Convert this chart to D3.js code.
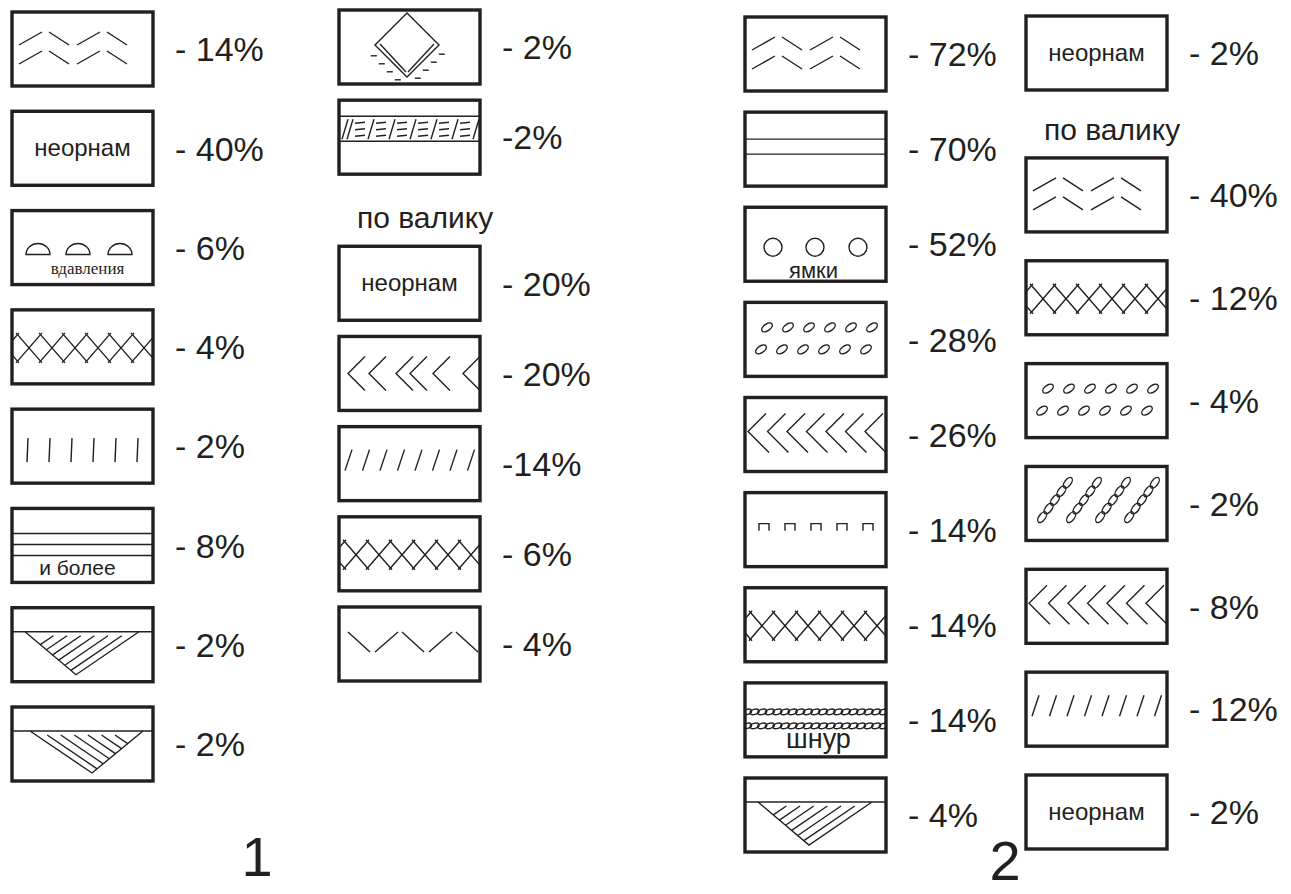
<!DOCTYPE html>
<html>

<head>
  <meta charset="UTF-8" />
  <title>Орнаментация</title>
  <script src="https://d3js.org/d3.v7.min.js"></script>
  <style>
    body { margin: 0; background: #fff; }
    text { font-family: "Liberation Sans", Arial, sans-serif; fill: #231f20; }
  </style>
</head>

<body>
  <div id="chart"></div>

  <script>
    // group 1, left column
    const col1Patterns = ["chevronPairs", "neornam", "domes", "crossChain", "ticks", "lines3", "triangleLeft", "triangleRight"];
    const col1Values = [14, 40, 6, 4, 2, 8, 2, 2];
    // group 1, right column ("header" is the "по валику" caption)
    const col2Patterns = ["diamond", "slashBand", "header", "neornam", "chevronsSparse", "slashes", "crossChain", "zigzag"];
    const col2Values = [2, 2, null, 20, 20, 14, 6, 4];
    // group 2, left column
    const col3Patterns = ["chevronPairs", "lines2", "pits", "ovals", "chevronsDense", "brackets", "crossChain", "cord", "triangleLeft"];
    const col3Values = [72, 70, 52, 28, 26, 14, 14, 14, 4];
    // group 2, right column
    const col4Patterns = ["neornam", "header", "chevronPairs", "crossChain", "ovals", "cordDiagonal", "chevronsDense", "slashes", "neornam"];
    const col4Values = [2, null, 40, 12, 4, 2, 8, 12, 2];

    const groupLabels = ["1", "2"];
    const headerText = "по валику";
    // these two are printed without a space after the dash
    const tightLabels = ["col2-1", "col2-5"];

    const width = 1291, height = 894;
    const boxW = 141, boxH = 74;
    const ink = "#231f20";

    const columns = [
      { key: "col1", patterns: col1Patterns, values: col1Values, top: 12, bottom: 707, headerSize: 0 },
      { key: "col2", patterns: col2Patterns, values: col2Values, top: 10, bottom: 607, headerSize: 0.62 },
      { key: "col3", patterns: col3Patterns, values: col3Values, top: 17, bottom: 778, headerSize: 0 },
      { key: "col4", patterns: col4Patterns, values: col4Values, top: 16, bottom: 775, headerSize: 0.38 }
    ];

    const xCol = d3.scaleOrdinal()
      .domain(columns.map(c => c.key))
      .range([12, 339, 745, 1026]);

    const xGroup = d3.scaleOrdinal().domain(groupLabels).range([257, 1005]);
    const yGroup = d3.scaleOrdinal().domain(groupLabels).range([876, 880]);

    const svg = d3.select("#chart")
      .append("svg")
      .attr("width", width)
      .attr("height", height);

    svg.append("defs").append("clipPath")
      .attr("id", "clipBox")
      .append("rect")
      .attr("width", boxW)
      .attr("height", boxH);

    const ln = d3.line();
    function seg(g, a, b) {
      g.append("path").attr("d", ln([a, b]));
    }
    function label(g, t, x, y, size, family) {
      g.append("text")
        .attr("x", x)
        .attr("y", y)
        .attr("text-anchor", "middle")
        .attr("font-size", size)
        .attr("stroke", "none")
        .style("font-family", family || null)
        .text(t);
    }
    function oval(g, cx, cy, rx, ry, ang) {
      g.append("ellipse")
        .attr("cx", cx).attr("cy", cy)
        .attr("rx", rx).attr("ry", ry)
        .attr("transform", `rotate(${ang},${cx},${cy})`);
    }

    function triangle(g, right) {
      const topY = 24, yEnd = 28;
      seg(g, [0, topY], [boxW, topY]);
      const L = right ? [18, topY] : [13, topY];
      const A = right ? [80, 66] : [64, 67];
      const R = right ? [131, topY] : [127, topY];
      g.append("path").attr("d", ln([L, A, R]));
      // hatching parallel to the opposite side
      const from = right ? R : L;
      const dir = right ? [L[0] - A[0], L[1] - A[1]] : [R[0] - A[0], R[1] - A[1]];
      [0.3, 0.42, 0.54, 0.66, 0.78, 0.9].forEach(t => {
        const p = [from[0] + (A[0] - from[0]) * t, from[1] + (A[1] - from[1]) * t];
        const k = (p[1] - yEnd) / -dir[1];
        seg(g, p, [p[0] + dir[0] * k, yEnd]);
      });
    }

    function chevrons(g, xs, vy, up, down) {
      xs.forEach(x => {
        g.append("path").attr("d", ln([[x + up, vy - up], [x, vy], [x + down, vy + down]]));
      });
    }

    const drawers = {
      chevronPairs(g) {
        [0, 1].forEach(r => [0, 1].forEach(k => {
          const x0 = 7 + k * 58, dy = r * 19;
          seg(g, [x0, 33 + dy], [x0 + 23, 20 + dy]);
          seg(g, [x0 + 30, 20 + dy], [x0 + 50, 33 + dy]);
        }));
      },
      neornam(g) {
        label(g, "неорнам", boxW / 2, boxH / 2 + 8, 24);
      },
      domes(g) {
        [26, 66, 108].forEach(cx => {
          g.append("path").attr("d", `M${cx - 12},44 A12,11 0 0 1 ${cx + 12},44 Z`);
        });
        label(g, "вдавления", boxW / 2 + 5, 63, 17, "Liberation Serif");
      },
      crossChain(g) {
        // a row of X marks whose arms just overlap their neighbours
        const s = 23, c0 = 17, top = 23, bot = 53, hw = 13;
        d3.range(-1, 7).forEach(k => {
          const cx = c0 + k * s;
          seg(g, [cx - hw, top], [cx + hw, bot]);
          seg(g, [cx - hw, bot], [cx + hw, top]);
        });
      },
      ticks(g) {
        d3.range(6).forEach(k => {
          const x = 15 + k * 22;
          seg(g, [x, 53], [x + 1, 29]);
        });
      },
      lines3(g) {
        [25, 36, 47].forEach(y => seg(g, [0, y], [boxW, y]));
        label(g, "и более", boxW / 2 - 5, 67, 21);
      },
      triangleLeft(g) { triangle(g, false); },
      triangleRight(g) { triangle(g, true); },
      diamond(g) {
        const c = [68, 35], r = 32;
        const T = [c[0], c[1] - r], Rt = [c[0] + r, c[1]], B = [c[0], c[1] + r], Lf = [c[0] - r, c[1]];
        g.append("path").attr("d", ln([T, Rt, B, Lf]) + "Z");
        // doubled lower sides
        seg(g, [Lf[0] + 5, Lf[1] - 1], [B[0] - 1, B[1] - 5]);
        seg(g, [B[0] + 1, B[1] - 5], [Rt[0] - 5, Rt[1] - 1]);
        // dashes outside the lower sides
        [0.15, 0.4, 0.65, 0.9].forEach(t => {
          const p = [Lf[0] + (B[0] - Lf[0]) * t - 6, Lf[1] + (B[1] - Lf[1]) * t + 6];
          seg(g, [p[0] - 3, p[1]], [p[0] + 3, p[1]]);
          const q = [B[0] + (Rt[0] - B[0]) * t + 6, B[1] + (Rt[1] - B[1]) * t + 6];
          seg(g, [q[0] - 3, q[1]], [q[0] + 3, q[1]]);
        });
      },
      slashBand(g) {
        seg(g, [0, 16], [boxW, 16]);
        seg(g, [0, 41], [boxW, 41]);
        seg(g, [3, 39], [9, 19]);
        d3.range(7).forEach(k => {
          const x = 8 + k * 21;
          seg(g, [x, 39], [x + 6, 19]);
          [23, 29.5, 36].forEach(y => seg(g, [x + 8, y], [x + 18, y - 1]));
        });
      },
      chevronsSparse(g) {
        chevrons(g, [9, 30, 57, 71, 94, 124], 37, 17, 17);
      },
      chevronsDense(g) {
        chevrons(g, d3.range(7).map(k => 3 + k * 19.5), 34, 18, 21);
      },
      slashes(g) {
        d3.range(8).forEach(k => {
          const x = 6 + k * 17.5;
          seg(g, [x, 44], [x + 7, 23]);
        });
      },
      zigzag(g) {
        d3.range(5).forEach(k => {
          const x0 = 9 + k * 27;
          if (k % 2 === 0) seg(g, [x0, 25], [x0 + 22, 45]);
          else seg(g, [x0, 45], [x0 + 23, 25]);
        });
      },
      lines2(g) {
        [27, 42].forEach(y => seg(g, [0, y], [boxW, y]));
      },
      pits(g) {
        [28, 70, 113].forEach(cx => g.append("circle").attr("cx", cx).attr("cy", 40).attr("r", 9));
        label(g, "ямки", boxW / 2 - 2, 71, 22);
      },
      ovals(g) {
        d3.range(6).forEach(k => {
          oval(g, 22 + k * 21, 25, 6, 3.3, -35);
          oval(g, 16 + k * 21, 47, 6, 3.3, -35);
        });
      },
      brackets(g) {
        d3.range(5).forEach(k => {
          const x = 14 + k * 26;
          g.append("path").attr("d", ln([[x, 38], [x, 31], [x + 10, 31], [x + 10, 38]]));
        });
      },
      cord(g) {
        [29, 43].forEach(y => d3.range(19).forEach(k => oval(g, 2 + k * 7.6, y, 4.6, 2.6, -15)));
        label(g, "шнур", boxW / 2 + 3, 65, 27);
      },
      cordDiagonal(g) {
        d3.range(4).forEach(k => {
          const a = [13 + k * 29, 55], b = [45 + k * 29, 12];
          const ang = Math.atan2(b[1] - a[1], b[0] - a[0]) * 180 / Math.PI;
          d3.range(5).forEach(j => {
            const t = (j + 0.5) / 5;
            oval(g, a[0] + (b[0] - a[0]) * t, a[1] + (b[1] - a[1]) * t, 6.2, 3.2, ang);
          });
        });
      }
    };

    columns.forEach(col => {
      let u = 0;
      const items = col.patterns.map((p, i) => {
        const it = { pattern: p, value: col.values[i], unit: u, index: i };
        u += p === "header" ? col.headerSize : 1;
        return it;
      });
      const boxes = items.filter(d => d.pattern !== "header");

      const y = d3.scaleLinear()
        .domain([0, boxes[boxes.length - 1].unit])
        .range([col.top, col.bottom]);

      const cells = svg.append("g")
        .selectAll("g.cell")
        .data(boxes)
        .join("g")
        .attr("class", "cell")
        .attr("transform", d => `translate(${xCol(col.key)},${y(d.unit)})`);

      cells.each(function (d) {
        const pg = d3.select(this).append("g")
          .attr("clip-path", "url(#clipBox)")
          .attr("fill", "none")
          .attr("stroke", ink)
          .attr("stroke-width", 1.4);
        drawers[d.pattern](pg);
      });

      cells.append("rect")
        .attr("width", boxW)
        .attr("height", boxH)
        .attr("fill", "none")
        .attr("stroke", ink)
        .attr("stroke-width", 3.4);

      cells.append("text")
        .attr("x", boxW + 22)
        .attr("y", boxH / 2)
        .attr("dy", "0.36em")
        .attr("font-size", 34)
        .text(d => (tightLabels.includes(col.key + "-" + d.index) ? "-" : "- ") + d.value + "%");

      // caption "по валику"
      items.filter(d => d.pattern === "header").forEach(d => {
        const next = items[d.index + 1];
        svg.append("text")
          .attr("x", xCol(col.key) + 18)
          .attr("y", y(next.unit) - 18)
          .attr("font-size", 30)
          .text(headerText);
      });
    });

    svg.selectAll("text.group")
      .data(groupLabels)
      .join("text")
      .attr("class", "group")
      .attr("x", d => xGroup(d))
      .attr("y", d => yGroup(d))
      .attr("text-anchor", "middle")
      .attr("font-size", 56)
      .text(d => d);
  </script>
</body>

</html>
